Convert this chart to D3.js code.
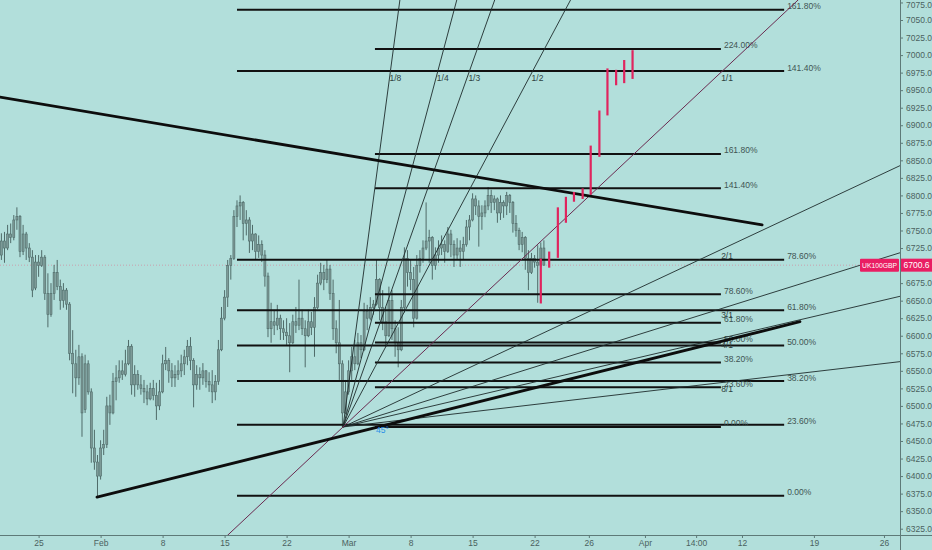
<!DOCTYPE html>
<html><head><meta charset="utf-8">
<script src="https://cdn.jsdelivr.net/npm/d3@7"></script>
<style>html,body{margin:0;padding:0;background:#b2dfdb;}svg{display:block;font-family:"Liberation Sans",Arial,sans-serif;}</style>
</head><body>
<div id="chart"></div>
<script>
// ---------- DATA ----------
const firstBarIndex = -12;
const barOpen = [6715,6735,6725,6745,6740,6765,6770,6720,6745,6725,6712,6668,6705,6700,6712,6660,6630,6660,6690,6670,6650,6665,6645,6575,6560,6540,6570,6495,6560,6520,6440,6420,6400,6440,6445,6500,6490,6535,6540,6550,6545,6560,6585,6530,6545,6530,6525,6520,6510,6525,6515,6500,6520,6560,6565,6550,6540,6545,6550,6560,6570,6585,6565,6530,6545,6540,6550,6535,6530,6520,6535,6580,6625,6655,6700,6710,6770,6785,6790,6760,6765,6735,6745,6720,6730,6715,6685,6610,6620,6615,6625,6610,6605,6600,6590,6620,6615,6625,6610,6600,6620,6612,6640,6675,6690,6680,6695,6660,6610,6590,6560,6490,6520,6550,6570,6560,6590,6580,6635,6625,6640,6645,6680,6640,6620,6600,6650,6610,6590,6580,6640,6710,6690,6680,6625,6700,6710,6725,6735,6740,6700,6715,6725,6730,6720,6745,6730,6715,6725,6720,6730,6755,6765,6795,6785,6770,6775,6785,6800,6790,6795,6775,6790,6785,6800,6790,6760,6750,6730,6740,6710,6690,6710,6705,6700,6725];
const barHigh = [6746,6748,6758,6760,6772,6783,6772,6758,6748,6732,6722,6715,6715,6722,6715,6689,6675,6701,6708,6680,6675,6668,6648,6608,6580,6587,6575,6573,6565,6525,6466,6430,6451,6466,6513,6516,6547,6558,6565,6565,6580,6594,6588,6558,6551,6544,6537,6530,6533,6537,6533,6537,6573,6584,6568,6561,6558,6565,6573,6580,6594,6598,6568,6558,6555,6561,6551,6548,6551,6544,6594,6641,6665,6708,6715,6779,6793,6800,6792,6779,6769,6758,6746,6743,6736,6722,6690,6647,6637,6644,6630,6622,6625,6618,6630,6641,6680,6637,6622,6637,6634,6655,6687,6704,6701,6708,6701,6680,6622,6651,6565,6537,6565,6584,6594,6604,6601,6647,6644,6655,6651,6708,6682,6665,6641,6670,6665,6622,6612,6651,6726,6722,6708,6698,6715,6722,6736,6790,6751,6742,6726,6736,6743,6736,6755,6751,6736,6739,6736,6741,6765,6772,6803,6800,6793,6786,6793,6812,6808,6800,6797,6800,6793,6805,6802,6792,6772,6754,6748,6742,6722,6718,6715,6729,6733,6736];
const barLow = [6708,6704,6722,6732,6736,6751,6712,6715,6708,6705,6655,6665,6684,6698,6651,6612,6627,6651,6665,6637,6640,6637,6565,6518,6513,6530,6456,6490,6516,6419,6409,6370,6395,6430,6440,6473,6488,6508,6533,6537,6542,6558,6516,6513,6523,6516,6504,6501,6508,6508,6480,6494,6518,6551,6533,6527,6527,6537,6541,6544,6558,6551,6498,6523,6523,6530,6526,6520,6504,6508,6530,6578,6622,6641,6680,6708,6755,6765,6736,6743,6718,6722,6708,6711,6705,6670,6598,6590,6601,6608,6594,6594,6587,6548,6588,6604,6608,6601,6555,6598,6601,6570,6638,6672,6665,6675,6651,6594,6575,6537,6470,6488,6516,6537,6551,6558,6568,6578,6608,6622,6630,6643,6622,6608,6584,6598,6594,6570,6555,6578,6633,6670,6665,6612,6623,6690,6704,6722,6704,6680,6694,6704,6715,6704,6718,6712,6698,6708,6698,6708,6727,6736,6763,6772,6727,6751,6769,6779,6775,6779,6761,6765,6768,6772,6775,6747,6741,6722,6719,6694,6665,6688,6697,6647,6698,6700];
const barClose = [6735,6725,6745,6740,6765,6770,6720,6745,6725,6712,6665,6705,6700,6712,6660,6630,6660,6690,6670,6650,6665,6645,6575,6560,6540,6570,6490,6560,6520,6440,6420,6400,6440,6445,6500,6490,6535,6540,6550,6545,6560,6585,6530,6545,6530,6525,6520,6510,6525,6515,6500,6520,6560,6565,6550,6540,6545,6550,6560,6570,6585,6565,6530,6545,6540,6550,6535,6530,6520,6535,6580,6625,6655,6700,6710,6770,6785,6790,6760,6765,6735,6745,6720,6730,6715,6685,6610,6620,6615,6625,6610,6605,6600,6590,6620,6615,6625,6610,6600,6620,6612,6640,6675,6690,6680,6695,6660,6610,6590,6560,6490,6520,6550,6570,6560,6590,6580,6635,6625,6640,6645,6680,6640,6620,6600,6650,6610,6590,6580,6640,6710,6690,6680,6625,6700,6710,6725,6735,6740,6700,6715,6725,6730,6720,6745,6730,6715,6725,6720,6730,6755,6765,6795,6785,6770,6775,6785,6800,6790,6795,6775,6790,6785,6800,6790,6760,6750,6730,6740,6710,6690,6710,6705,6700,6725,6700.6];

// projected (pink) bars
const projIndex = [162.0,164.7,167.5,170.1,172.7,175.5,178.1,180.9,183.5,186.3,188.9,191.6];
const projHigh  = [6710,6720,6783,6798,6805,6810,6871,6921,6981,6979,6993,7007];
const projLow   = [6646,6697,6711,6761,6791,6795,6801,6855,6914,6957,6960,6966];

// axes (6700.0 is hidden behind the last-price label)
const priceTicks = [6325,6350,6375,6400,6425,6450,6475,6500,6525,6550,6575,6600,6625,6650,6675,6725,6750,6775,6800,6825,6850,6875,6900,6925,6950,6975,7000,7025,7050,7075];
const timeTickIndex = [0,20,40,60,80,100,120,140,160,177.5,195.6,212.1,226.9,250.1,272.7];
const timeTickLabels = ["25","Feb","8","15","22","Mar","8","15","22","26","Apr","14:00","12","19","26"];

// fib retracements
const fibA = {start:64, end:240.5, p0:6372, p100:6800};
const fibALevels = [0,0.236,0.382,0.5,0.618,0.786,1.414,1.618];
const fibB = {start:108.5, end:220.1, p0:6470, p100:6710.5};
const fibBLevels = [0,0.236,0.382,0.5,0.618,0.786,1.414,1.618,2.24];

// gann fan
const fanOrigin = {i:98.2, p:6470};
const fanRef = {i:220.5, p:6977};
const fanUpper = [["1/8",1/8],["1/4",1/4],["1/3",1/3],["1/2",1/2]];
const fanLower = [["2/1",2],["3/1",3],["4/1",4],["8/1",8]];

// trend lines
const trendDown = [{i:-12.45,p:6940},{i:233.4,p:6758}];
const trendUp = [{i:18.84,p:6370},{i:245.6,p:6620}];
const lastPrice = 6700.6;
const symbol = "UK100GBP";

// ---------- CHART ----------
const W = 932, H = 550, PW = 900, PH = 535;
const x = d3.scaleLinear().domain([-12.45, 277.87]).range([0, PW]);
const y = d3.scaleLinear().domain([6325, 7050]).range([528.7, 20]);

const svg = d3.select("#chart").append("svg").attr("width", W).attr("height", H);
svg.append("rect").attr("width", W).attr("height", H).attr("fill", "#b2dfdb");
svg.append("clipPath").attr("id","plot").append("rect").attr("x",0).attr("y",0).attr("width",PW).attr("height",PH);
const g = svg.append("g").attr("clip-path","url(#plot)");

// last price dotted line
g.append("line").attr("x1",0).attr("x2",PW).attr("y1",y(lastPrice)).attr("y2",y(lastPrice))
  .attr("stroke","#c9a0ad").attr("stroke-width",1).attr("stroke-dasharray","1,2");

// bars
const bars = barClose.map((c,k)=>({i:firstBarIndex+k,o:barOpen[k],h:barHigh[k],l:barLow[k],c}));
const barCol = "#4f6b69";
g.append("g").selectAll("line").data(bars).join("line")
  .attr("x1",d=>x(d.i)).attr("x2",d=>x(d.i)).attr("y1",d=>y(d.h)).attr("y2",d=>y(d.l))
  .attr("stroke",barCol).attr("stroke-width",1);
g.append("g").selectAll("rect").data(bars).join("rect")
  .attr("x",d=>x(d.i)-1).attr("width",2)
  .attr("y",d=>y(Math.max(d.o,d.c))).attr("height",d=>Math.max(1,Math.abs(y(d.o)-y(d.c))))
  .attr("fill","#7d9a97").attr("stroke",barCol).attr("stroke-width",0.6);

// fib lines
function drawFib(f, levels){
  levels.forEach(l=>{
    const p = f.p0 + (f.p100 - f.p0)*l;
    const yy = y(p);
    g.append("line").attr("x1",x(f.start)).attr("x2",x(f.end)).attr("y1",yy).attr("y2",yy)
      .attr("stroke","#111").attr("stroke-width",2);
    g.append("text").attr("x",x(f.end)+3).attr("y",yy-0.5).attr("font-size",8.5)
      .attr("fill","#3f5553").text((l*100).toFixed(2)+"%");
  });
}
drawFib(fibA, fibALevels);
drawFib(fibB, fibBLevels);

// gann fan
const ox = x(fanOrigin.i), oy = y(fanOrigin.p), rx = x(fanRef.i), ry = y(fanRef.p);
function ray(ex, ey, color, w, both){
  const dx = ex-ox, dy = ey-oy, k = 3000/Math.hypot(dx,dy);
  g.append("line").attr("x1", both? ox-dx*k : ox).attr("y1", both? oy-dy*k : oy)
    .attr("x2",ox+dx*k).attr("y2",oy+dy*k).attr("stroke",color).attr("stroke-width",w);
}
const fanLabels = [];
fanUpper.forEach(([t,r])=>{const ex=ox+(rx-ox)*r; ray(ex,ry,"#1e2b2b",0.9,false); fanLabels.push([t,ex,ry]);});
fanLower.forEach(([t,r])=>{const ey=oy+(ry-oy)/r; ray(rx,ey,"#1e2b2b",0.9,false); fanLabels.push([t,rx,ey]);});
ray(rx,ry,"#6a2a50",1,true);
fanLabels.push(["1/1",rx,ry]);
fanLabels.forEach(([t,ex,ey])=>{
  g.append("text").attr("x",ex-1).attr("y",ey+10).attr("font-size",8.5).attr("fill","#2f4240").text(t);
});

// trend lines
[trendDown, trendUp].forEach(tl=>{
  g.append("line").attr("x1",x(tl[0].i)).attr("y1",y(tl[0].p)).attr("x2",x(tl[1].i)).attr("y2",y(tl[1].p))
    .attr("stroke","#0d0d0d").attr("stroke-width",2.8).attr("stroke-linecap","round");
});

// pink projected bars
const proj = projIndex.map((v,k)=>({i:v,h:projHigh[k],l:projLow[k]}));
g.append("g").selectAll("line").data(proj).join("line")
  .attr("x1",d=>x(d.i)).attr("x2",d=>x(d.i)).attr("y1",d=>y(d.h)).attr("y2",d=>y(d.l))
  .attr("stroke","#e0245e").attr("stroke-width",2.2);

// 45° label
g.append("text").attr("x",ox+33).attr("y",oy+6).attr("font-size",8.5).attr("fill","#2b8fe8").text("45°");

// axes
const axCol = "#5e7a78", txtCol = "#4b6260";
svg.append("line").attr("x1",PW+0.5).attr("x2",PW+0.5).attr("y1",0).attr("y2",H).attr("stroke",axCol).attr("stroke-width",1);
svg.append("line").attr("x1",0).attr("x2",W).attr("y1",PH+0.5).attr("y2",PH+0.5).attr("stroke",axCol).attr("stroke-width",1);

const yAxis = svg.append("g").attr("transform",`translate(${PW},0)`)
  .call(d3.axisRight(y).tickValues(priceTicks).tickFormat(d3.format(".1f")).tickSize(3).tickPadding(3));
yAxis.select(".domain").remove();
yAxis.selectAll("line").attr("stroke",axCol);
yAxis.selectAll("text").attr("fill",txtCol).attr("font-size",8.5).attr("font-family","Liberation Sans, Arial, sans-serif");
yAxis.selectAll(".tick").filter(d=>d===7075).select("text").attr("dy","0.6em");

const xAxis = svg.append("g").attr("transform",`translate(0,${PH})`)
  .call(d3.axisBottom(x).tickValues(timeTickIndex).tickFormat((d,k)=>timeTickLabels[k]).tickSize(3).tickPadding(2));
xAxis.select(".domain").remove();
xAxis.selectAll("line").attr("stroke",axCol);
xAxis.selectAll("text").attr("fill",txtCol).attr("font-size",8.5).attr("font-family","Liberation Sans, Arial, sans-serif");

// price label
const ly = y(lastPrice);
svg.append("rect").attr("x",860).attr("y",ly-6.5).attr("width",39).attr("height",13).attr("fill","#e91e63").attr("rx",1);
svg.append("rect").attr("x",901).attr("y",ly-6.5).attr("width",31).attr("height",13).attr("fill","#e91e63");
svg.append("text").attr("x",879.5).attr("y",ly+3).attr("text-anchor","middle").attr("font-size",7)
  .attr("textLength",35).attr("lengthAdjust","spacingAndGlyphs").attr("fill","#fff").text(symbol);
svg.append("text").attr("x",916.5).attr("y",ly+3).attr("text-anchor","middle").attr("font-size",8.5).attr("fill","#fff").text(lastPrice.toFixed(1));
</script>
</body></html>
